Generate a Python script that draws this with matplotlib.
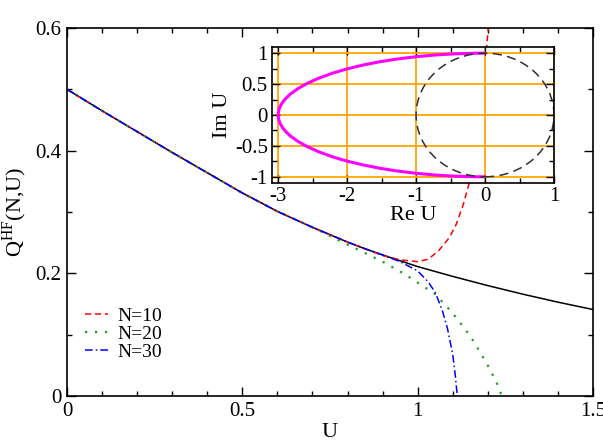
import numpy as np
import matplotlib
matplotlib.use('Agg')
import matplotlib.pyplot as plt
from matplotlib.patches import Arc, Circle

plt.rcParams['font.family'] = ['Liberation Serif', 'DejaVu Serif']
plt.rcParams['mathtext.fontset'] = 'custom'
plt.rcParams['mathtext.rm'] = 'Liberation Serif'

# limit curve (N -> infinity)
u_inf = np.array([0.0, 0.1, 0.2, 0.3, 0.4, 0.5, 0.6, 0.7, 0.8, 0.85,
                  0.9, 1.0, 1.1, 1.2, 1.3, 1.4, 1.5])
q_inf = np.array([0.500, 0.465, 0.431, 0.397, 0.364, 0.331, 0.301, 0.275, 0.251, 0.240,
                  0.230, 0.211, 0.195, 0.180, 0.166, 0.153, 0.141])

# finite N: same as the limit curve up to where they split off
u_n10 = np.array([0.9, 0.95, 1.0, 1.03, 1.06, 1.09, 1.11, 1.13, 1.146, 1.16, 1.175, 1.19, 1.2, 1.21])
q_n10 = np.array([0.229, 0.222, 0.219, 0.223, 0.237, 0.258, 0.280, 0.312, 0.345, 0.39, 0.45, 0.53, 0.59, 0.66])
u_n20 = np.array([0.8, 0.85, 0.9, 0.95, 1.0, 1.05, 1.1, 1.15, 1.2, 1.225, 1.24])
q_n20 = np.array([0.247, 0.233, 0.219, 0.203, 0.185, 0.166, 0.135, 0.098, 0.050, 0.022, 0.0])
u_n30 = np.array([0.95, 1.0, 1.03, 1.05, 1.07, 1.085, 1.1, 1.107, 1.113])
q_n30 = np.array([0.219, 0.204, 0.186, 0.169, 0.140, 0.110, 0.068, 0.035, 0.0])
split = {10: 0.85, 20: 0.7, 30: 0.9}

# inset: convergence region (ellipse half) and unit circle
ell_center = (0.0, 0.0)
ell_semi = (3.0, 1.0)
circ_radius = 1.0

fig = plt.figure(figsize=(6.03, 4.41), dpi=100)
ax = fig.add_axes([67/603, 45/441, 526/603, 368/441])

ax.plot(u_inf, q_inf, color='black', lw=1.1)
m = u_inf <= split[10]
ax.plot(np.r_[u_inf[m], u_n10], np.r_[q_inf[m], q_n10], color='red',
        ls=(0, (4, 2.5)), lw=1.1, label='N=10')
m = u_inf <= split[20]
ax.plot(np.r_[u_inf[m], u_n20], np.r_[q_inf[m], q_n20], color='#1f9f1f',
        ls=(0, (1, 3.5)), lw=1.6, label='N=20')
m = u_inf <= split[30]
ax.plot(np.r_[u_inf[m], u_n30], np.r_[q_inf[m], q_n30], color='blue',
        ls=(0, (5, 2, 1, 2)), lw=1.1, label='N=30')

ax.set_xlim(0, 1.5)
ax.set_ylim(0, 0.6)
ax.set_xticks([0, 0.5, 1, 1.5])
ax.set_xticklabels(['0', '0.5', '1', '1.5'])
ax.set_yticks([0, 0.2, 0.4, 0.6])
ax.set_yticklabels(['0', '0.2', '0.4', '0.6'])
ax.set_xticks(np.arange(0, 1.51, 0.1), minor=True)
ax.set_yticks(np.arange(0, 0.61, 0.1), minor=True)
ax.tick_params(which='both', direction='in', top=True, right=True, labelsize=15, width=1)
ax.tick_params(which='major', length=6.5, pad=4)
ax.tick_params(which='minor', length=3.5)
for s in ax.spines.values():
    s.set_linewidth(1.2)
ax.set_xlabel('U', fontsize=16, labelpad=2)
ax.set_ylabel(r'Q$^{\mathrm{HF}}$(N,U)', fontsize=16)
ax.yaxis.set_label_coords(-0.072, 0.5)

ax.legend(loc='upper left', bbox_to_anchor=(0.035, 0.24), frameon=False, fontsize=14,
          handlelength=1.15, handletextpad=0.5, labelspacing=0.0,
          borderpad=0, borderaxespad=0)

ins = fig.add_axes([272/603, 258/441, 282/603, 136/441])
ins.set_xlim(-3.09, 1.0)
ins.set_ylim(-1.1, 1.1)
ins.set_axisbelow(True)
ins.grid(True, which='major', color='orange', lw=1.3)
ins.add_patch(Arc(ell_center, 2*ell_semi[0], 2*ell_semi[1], theta1=90, theta2=270,
                  color='magenta', lw=2.2))
ins.add_patch(Circle(ell_center, circ_radius, fill=False, color='#303030',
                     ls=(0, (6, 3.5)), lw=1.1))
ins.set_xticks([-3, -2, -1, 0, 1])
ins.set_xticklabels(['-3', '-2', '-1', '0', '1'])
ins.set_yticks([-1, -0.5, 0, 0.5, 1])
ins.set_yticklabels(['-1', '-0.5', '0', '0.5', '1'])
ins.set_xticks(np.arange(-3, 1.01, 0.5), minor=True)
ins.set_yticks(np.arange(-1, 1.01, 0.25), minor=True)
ins.tick_params(which='both', direction='in', top=True, right=True, labelsize=15, width=1)
ins.tick_params(which='major', length=6, pad=3)
ins.tick_params(which='minor', length=3.5)
for s in ins.spines.values():
    s.set_linewidth(1.2)
ins.set_xlabel('Re U', fontsize=16, labelpad=0)
ins.set_ylabel('Im U', fontsize=16, labelpad=2)

fig.savefig('out.png', dpi=100)
